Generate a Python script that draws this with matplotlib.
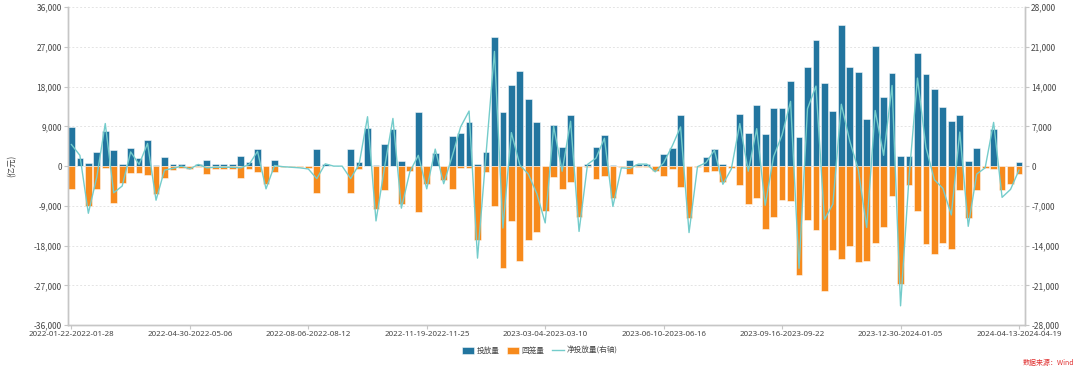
import matplotlib
matplotlib.use("Agg")
import matplotlib.pyplot as plt
import numpy as np
import pandas as pd
from matplotlib.ticker import FuncFormatter, MultipleLocator

plt.rcParams['font.family'] = ['Noto Sans CJK SC', 'DejaVu Sans']
plt.rcParams['axes.unicode_minus'] = False

# ---- data (亿元) ----
week_start = "2022-01-22"
week_end = "2024-04-13"
skipped_weeks = ["2022-10-01", "2023-01-21", "2023-09-30", "2024-02-10"]

injection = [8900, 1900, 800, 3300, 8000, 3600, 400, 4000, 1800, 6000,
             300, 2000, 400, 500, 100, 500, 1400, 400, 400, 400,
             2400, 900, 3900, 100, 1400, 0, 0, 0, 0, 3900,
             400, 0, 0, 3900, 900, 8700, 150, 5000, 8400, 1100,
             100, 12300, 100, 3000, 100, 6900, 7400, 10100, 500, 3300,
             29200, 12200, 18300, 21600, 15300, 10100, 100, 9400, 4300, 11500,
             100, 400, 4300, 7100, 200, 0, 1300, 500, 500, 0,
             2800, 4100, 11600, 100, 0, 2000, 3900, 400, 0, 11700,
             7600, 13900, 7300, 13200, 13200, 19200, 6600, 22400, 28600, 18900,
             12400, 32000, 22500, 21200, 10700, 27100, 15700, 21000, 2200, 2200,
             25600, 20900, 17400, 13500, 10200, 11500, 1100, 4100, 100, 8400,
             0, 0, 1000]

withdrawal = [5100, 0, 9100, 5200, 500, 8300, 3900, 1500, 1500, 2000,
              6300, 2700, 800, 500, 600, 200, 1700, 600, 600, 600,
              2700, 600, 1300, 4100, 1300, 100, 200, 300, 500, 6100,
              0, 0, 0, 6100, 600, 0, 9800, 5300, 0, 8500,
              1100, 10400, 4100, 0, 3200, 5200, 500, 400, 16700, 1300,
              9000, 23100, 12400, 21400, 16700, 14900, 10100, 2400, 5200, 3600,
              11600, 100, 2900, 2200, 7300, 300, 1700, 150, 150, 1000,
              2200, 600, 4700, 11800, 100, 1400, 1100, 3600, 500, 4200,
              8500, 7300, 14200, 11500, 7700, 7800, 24600, 12300, 14500, 28300,
              19100, 21100, 18100, 21800, 21500, 17300, 13800, 6800, 26800, 4200,
              10100, 17600, 19800, 17400, 18800, 5500, 11700, 5500, 400, 700,
              5500, 4100, 1700]

starts = [d for d in pd.date_range(week_start, week_end, freq="7D")
          if d.strftime("%Y-%m-%d") not in skipped_weeks]
categories = [f"{d:%Y-%m-%d}-{(d + pd.Timedelta(days=6)):%Y-%m-%d}" for d in starts]

inj = np.array(injection, dtype=float)
wd = np.array(withdrawal, dtype=float)
net = inj - wd

# ---- plot ----
fig = plt.figure(figsize=(10.8, 3.75), dpi=100)
ax = fig.add_axes([0.063, 0.133, 0.886, 0.848])
ax2 = ax.twinx()

x = np.arange(len(categories))
blue = "#22759f"
orange = "#f78a1c"
teal = "#74cccb"
grey = "#c6c6c6"
txt = "#454545"

ax.bar(x, inj, width=0.8, color=blue, edgecolor=(1, 1, 1, 0.7), linewidth=0.5,
       label="投放量", zorder=2)
ax.bar(x, -wd, width=0.8, color=orange, edgecolor=(1, 1, 1, 0.7), linewidth=0.5,
       label="回笼量", zorder=2)
ax2.plot(x, net, color=teal, linewidth=1.0, label="净投放量(右轴)", zorder=3)

ax.set_ylim(-36000, 36000)
ax.yaxis.set_major_locator(MultipleLocator(9000))
ax2.set_ylim(-28000, 28000)
ax2.yaxis.set_major_locator(MultipleLocator(7000))
fmt = FuncFormatter(lambda v, p: f"{int(round(v)):,}")
ax.yaxis.set_major_formatter(fmt)
ax2.yaxis.set_major_formatter(fmt)

ax.set_xlim(-0.4, len(categories) - 0.3)
tick_idx = list(range(0, len(categories), 14))
ax.set_xticks(tick_idx)
ax.set_xticklabels([categories[i] for i in tick_idx], family="Noto Sans",
                   fontsize=5.7)

ax.grid(axis="y", linestyle=(0, (2, 2)), color="#e4e4e4", linewidth=0.7, zorder=0)
ax.set_axisbelow(True)

for a in (ax, ax2):
    a.spines["top"].set_visible(False)
    for s in ("left", "right", "bottom"):
        a.spines[s].set_color(grey)
        a.spines[s].set_linewidth(1.0)
    a.tick_params(axis="both", colors=grey, labelcolor=txt,
                  length=3, width=0.8, pad=1.5)
    a.tick_params(axis="y", labelsize=6)

ax.set_zorder(ax2.get_zorder() - 1)
ax.patch.set_visible(False)
ax2.patch.set_visible(False)

fig.text(0.011, 0.557, "(亿元)", rotation=90, ha="center", va="center",
         fontsize=6, color=txt)

h1, l1 = ax.get_legend_handles_labels()
h2, l2 = ax2.get_legend_handles_labels()
fig.legend(h1 + h2, l1 + l2, loc="center", bbox_to_anchor=(0.5, 1 - 351 / 375),
           ncol=3, frameon=False, fontsize=5.5, handlelength=1.5, handleheight=0.9,
           columnspacing=1.0, handletextpad=0.4, labelcolor=txt)

fig.text(0.995, 1 - 363 / 375, "数据来源：Wind", ha="right", va="center",
         fontsize=5, color="#e03030")

fig.savefig("out.png", dpi=100)
